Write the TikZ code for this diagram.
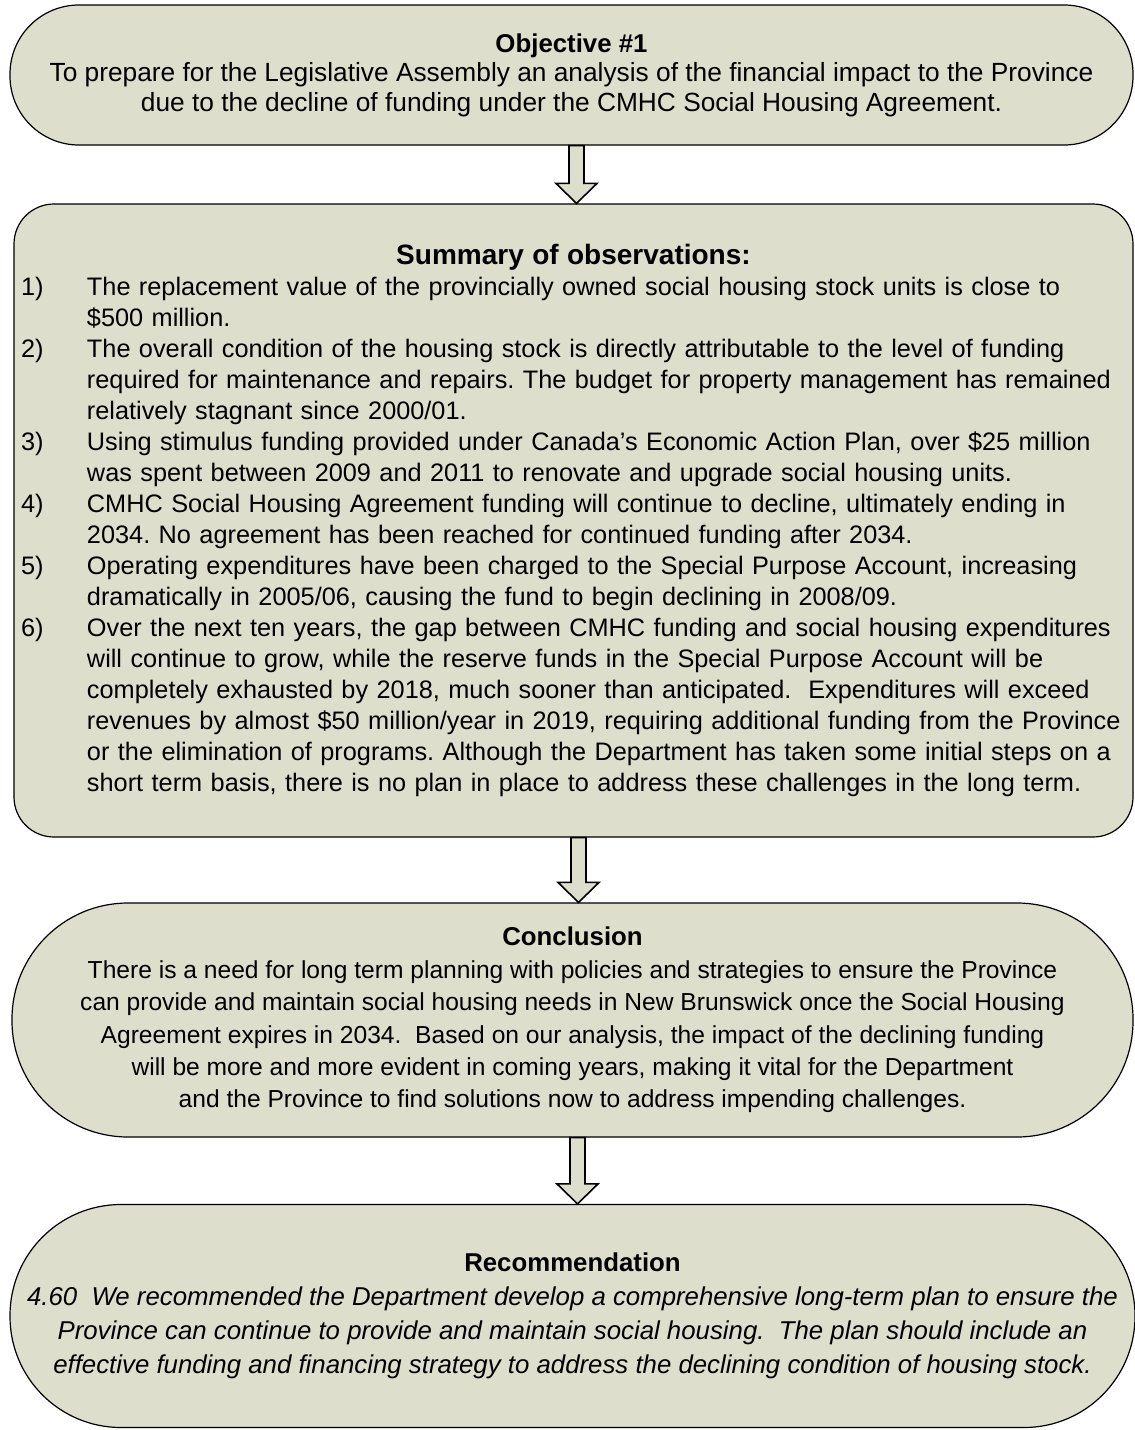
\documentclass[tikz,border=0pt]{standalone}
\usepackage{fontspec}
\setmainfont{Liberation Sans}
\usetikzlibrary{calc,positioning}
\definecolor{boxfill}{RGB}{221,223,204}
\frenchspacing

\tikzset{
  flowbox/.style={draw=black, line width=1.2pt, fill=boxfill, inner sep=0pt},
  flowarr/.style={draw=black, line width=1.6pt, fill=boxfill, line join=miter},
}
\newcommand{\flowarrow}[2]{%
  \draw [flowarr] let \p1=([xshift=5pt]#1.south), \p2=([xshift=5pt]#2.north) in
    (\x1-7.5pt,\y1) -- (\x1+7.5pt,\y1) -- (\x1+7.5pt,\y2+20pt) -- (\x1+20.5pt,\y2+20pt)
    -- (\x1,\y2) -- (\x1-20.5pt,\y2+20pt) -- (\x1-7.5pt,\y2+20pt) -- cycle;}
\newcommand{\obs}[2]{\par\noindent\hangindent=66pt\hangafter=1\makebox[66pt][l]{#1}#2\par}

\begin{document}
\begin{tikzpicture}[x=1pt, y=-1pt]
        \useasboundingbox (0,0) rectangle (1135,1430);

        \node [flowbox, rounded corners=69pt, minimum width=1123pt, minimum height=140pt, align=center,
               font=\fontsize{26.3}{29.5}\selectfont] (obj) at (571.5,75)
              {{\fontsize{25.8}{29.5}\selectfont\bfseries Objective \#1}\\
               To prepare for the Legislative Assembly an analysis of the financial impact to the Province\\
               due to the decline of funding under the CMHC Social Housing Agreement.};

        \node [flowbox, rounded corners=40pt, minimum width=1119pt, minimum height=633pt,
               text width=1105pt, align=left, font=\fontsize{25.3}{31}\selectfont] (obs) at (573.5,520.5)
              {{\centering\fontsize{28}{34}\selectfont\bfseries Summary of observations:\par}
               \obs{1)}{The replacement value of the provincially owned social housing stock units is close to\newline
                 \$500 million.}
               \obs{2)}{The overall condition of the housing stock is directly attributable to the level of funding\newline
                 required for maintenance and repairs. The budget for property management has remained\newline
                 relatively stagnant since 2000/01.}
               \obs{3)}{Using stimulus funding provided under Canada's Economic Action Plan, over \$25 million\newline
                 was spent between 2009 and 2011 to renovate and upgrade social housing units.}
               \obs{4)}{CMHC Social Housing Agreement funding will continue to decline, ultimately ending in\newline
                 2034. No agreement has been reached for continued funding after 2034.}
               \obs{5)}{Operating expenditures have been charged to the Special Purpose Account, increasing\newline
                 dramatically in 2005/06, causing the fund to begin declining in 2008/09.}
               \obs{6)}{Over the next ten years, the gap between CMHC funding and social housing expenditures\newline
                 will continue to grow, while the reserve funds in the Special Purpose Account will be\newline
                 completely exhausted by 2018, much sooner than anticipated.\ \ Expenditures will exceed\newline
                 revenues by almost \$50 million/year in 2019, requiring additional funding from the Province\newline
                 or the elimination of programs. Although the Department has taken some initial steps on a\newline
                 short term basis, there is no plan in place to address these challenges in the long term.}};

        \node [flowbox, rounded corners=116pt, minimum width=1121pt, minimum height=234pt, align=center,
               font=\fontsize{24.6}{32.4}\selectfont] (concl) at (572.5,1020)
              {{\fontsize{25.8}{32.4}\selectfont\bfseries Conclusion}\\
               There is a need for long term planning with policies and strategies to ensure the Province\\
               can provide and maintain social housing needs in New Brunswick once the Social Housing\\
               Agreement expires in 2034.\ \ Based on our analysis, the impact of the declining funding\\
               will be more and more evident in coming years, making it vital for the Department\\
               and the Province to find solutions now to address impending challenges.};

        \node [flowbox, rounded corners=111pt, minimum width=1125pt, minimum height=223pt, align=center,
               font=\fontsize{25.8}{34}\selectfont] (rec) at (572.5,1316)
              {\textbf{Recommendation}\\
               \itshape 4.60\ \ We recommended the Department develop a comprehensive long-term plan to ensure the\\
               \itshape Province can continue to provide and maintain social housing.\ \ The plan should include an\\
               \itshape effective funding and financing strategy to address the declining condition of housing stock.};

        \flowarrow{obj}{obs}
        \flowarrow{obs}{concl}
        \flowarrow{concl}{rec}
\end{tikzpicture}
\end{document}
